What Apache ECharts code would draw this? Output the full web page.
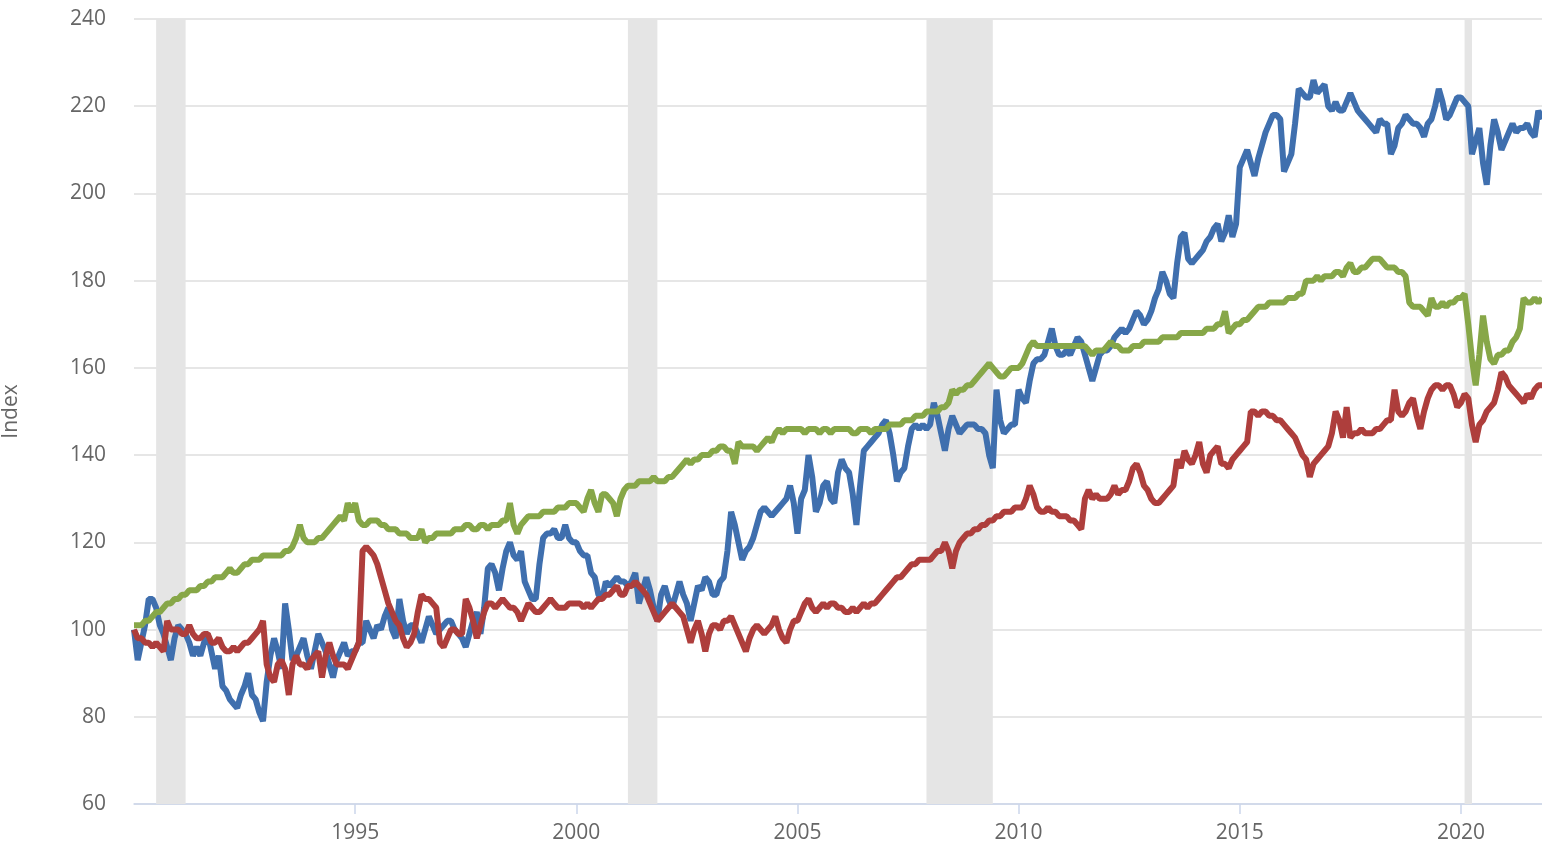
<!DOCTYPE html>
<html><head><meta charset="utf-8">
<script src="https://cdn.jsdelivr.net/npm/echarts@6/dist/echarts.min.js"></script>
<style>html,body{margin:0;padding:0;background:#fff}#c{width:1542px;height:845px}</style>
</head><body><div id="c"></div>
<script>
const START_YEAR = 1990; // monthly data from Jan 1990

const blueSeries = [
100,93,97,101,107,107,105,101,99,96,93,98,
101,100,99,97,94,96,94,97,99,95,91,94,
87,86,84,83,82,85,87,90,85,84,81,79,
88,94,98,95,91,106,100,93,94,96,98,94,
91,95,99,97,95,92,89,93,95,97,94,95,
95,97,97,102,100,98,101,100,103,105,100,98,
107,102,99,101,101,99,97,100,103,101,99,100,
101,102,102,100,99,98,96,99,102,104,99,105,
114,115,113,109,114,118,120,117,116,118,111,109,
107,107,115,121,122,122,123,121,121,124,121,120,
120,118,117,117,113,112,108,107,111,110,111,112,
111,111,110,111,113,106,109,112,109,105,102,108,
110,107,105,108,111,108,106,102,106,110,109,112,
111,108,108,111,112,118,127,124,120,116,118,119,
121,124,127,128,127,126,127,128,129,130,133,129,
122,130,132,140,135,127,129,133,134,130,129,136,
139,137,136,131,124,133,141,142,143,144,145,147,
148,145,140,134,136,137,142,146,147,146,147,146,
147,152,149,145,141,146,149,147,145,146,147,147,
147,146,146,145,140,137,155,148,145,146,147,147,
155,153,152,157,161,162,162,163,166,169,165,163,
163,164,163,165,167,166,163,160,157,160,163,164,
164,165,167,168,169,168,169,171,173,172,170,171,
173,176,178,182,180,177,176,184,190,191,185,184,
185,186,187,189,190,192,193,189,191,195,190,193,
206,208,210,207,204,208,211,214,216,218,218,217,
205,207,209,216,224,223,222,222,226,223,224,225,
220,219,221,219,219,221,223,221,219,218,217,216,
215,214,217,216,216,209,211,215,216,218,217,216,
216,215,213,216,217,220,224,221,217,218,220,222,
222,221,220,209,212,215,207,202,211,217,214,210,
212,214,216,214,215,215,216,214,213,219,217
];

const redSeries = [
100,98,98,97,97,96,97,96,95,102,100,100,
100,99,99,101,99,98,98,99,99,97,97,98,
96,95,95,96,95,96,97,97,98,99,100,102,
92,89,88,92,93,91,85,92,94,92,92,91,
93,94,95,89,94,97,94,92,92,92,91,93,
95,97,118,119,118,117,115,112,109,106,104,102,
101,98,96,97,99,104,108,107,107,106,105,97,
96,98,100,100,99,99,107,105,102,98,101,104,
106,106,105,106,107,106,105,105,104,102,104,106,
105,104,104,105,106,107,106,105,105,105,106,106,
106,106,105,106,105,106,107,107,108,108,109,110,
108,108,110,110,111,110,109,108,106,104,102,103,
104,105,106,105,104,103,100,97,100,102,99,95,
99,101,101,100,102,102,103,101,99,97,95,98,
100,101,100,99,100,101,103,100,98,97,100,102,
102,104,106,107,105,104,105,106,105,106,106,105,
105,104,104,105,104,105,106,105,106,106,107,108,
109,110,111,112,112,113,114,115,115,116,116,116,
116,117,118,118,120,118,114,118,120,121,122,122,
123,123,124,124,125,125,126,126,127,127,127,128,
128,128,130,133,131,128,127,127,128,127,127,126,
126,126,125,125,124,123,130,132,130,131,130,130,
130,131,133,131,132,132,134,137,138,136,133,132,
130,129,129,130,131,132,133,139,137,141,139,138,
140,143,138,136,140,141,142,138,138,137,139,140,
141,142,143,150,150,149,150,150,149,149,148,148,
147,146,145,144,142,140,139,135,138,139,140,141,
142,145,150,148,144,151,144,145,145,146,145,145,
145,146,146,147,148,148,155,150,149,150,152,153,
149,146,150,153,155,156,156,155,156,156,154,151,
152,154,153,147,143,147,148,150,151,152,155,159,
158,156,155,154,153,152,154,153,155,156,156
];

const greenSeries = [
101,101,101,102,102,103,104,104,105,106,106,107,
107,108,108,109,109,109,110,110,111,111,112,112,
112,113,114,113,113,114,115,115,116,116,116,117,
117,117,117,117,117,118,118,119,121,124,121,120,
120,120,121,121,122,123,124,125,126,125,129,127,
129,125,124,124,125,125,125,124,124,123,123,123,
122,122,122,121,121,121,123,120,121,121,122,122,
122,122,122,123,123,123,124,124,123,123,124,124,
123,124,124,124,125,125,129,124,122,124,125,126,
126,126,126,127,127,127,127,128,128,128,129,129,
129,128,127,130,132,129,127,131,131,130,129,126,
130,132,133,133,133,134,134,134,134,135,134,134,
134,135,135,136,137,138,139,138,139,139,140,140,
140,141,141,142,142,141,141,138,143,142,142,142,
142,141,142,143,144,143,145,146,145,146,146,146,
146,146,145,146,146,146,145,146,146,145,146,146,
146,146,146,145,145,146,146,146,145,146,146,146,
146,147,147,147,147,148,148,148,149,149,149,150,
150,150,150,151,151,152,155,154,155,155,156,156,
157,158,159,160,161,160,159,158,158,159,160,160,
160,161,163,165,166,165,165,165,165,165,165,165,
165,165,165,165,165,165,165,164,163,164,164,164,
165,166,165,165,164,164,164,165,165,165,166,166,
166,166,166,167,167,167,167,167,168,168,168,168,
168,168,168,169,169,169,170,170,173,168,169,170,
170,171,171,172,173,174,174,174,175,175,175,175,
175,176,176,176,177,177,180,180,180,181,180,181,
181,181,182,182,181,183,184,182,182,183,183,184,
185,185,185,184,183,183,183,182,182,181,175,174,
174,174,173,172,176,174,174,175,174,175,175,176,
176,177,170,162,156,163,172,166,162,161,163,163,
164,164,166,167,169,176,175,175,176,175,176
];

// recession periods, decimal years (start, end)
const recessions = [[1990.5, 1991.1667], [2001.1667, 2001.8333], [2007.9167, 2009.4167], [2020.0833, 2020.25]];

const yMin = 60, yMax = 240, yStep = 20;
const xTickStep = 5;

const toPairs = arr => arr.map((v, i) => [START_YEAR + i / 12, v]);
const xMax = START_YEAR + (blueSeries.length - 1) / 12;

const chart = echarts.init(document.getElementById('c'), null, {renderer: 'canvas'});
const FONT = '"Open Sans", "Noto Sans", sans-serif';
chart.setOption({
  animation: false,
  backgroundColor: '#ffffff',
  grid: {left: 134, right: 0, top: 19, bottom: 41, containLabel: false, outerBoundsMode: 'none'},
  xAxis: {
    type: 'value', min: START_YEAR, max: xMax, interval: xTickStep,
    axisLine: {show: true, lineStyle: {color: '#ccd6eb', width: 1.5}},
    axisTick: {show: true, length: 10, lineStyle: {color: '#ccd6eb', width: 1.5}},
    splitLine: {show: false},
    axisLabel: {showMinLabel: false, showMaxLabel: false, color: '#666666', fontSize: 21, fontFamily: FONT, margin: 19,
      formatter: v => String(Math.round(v))}
  },
  yAxis: {
    type: 'value', min: yMin, max: yMax, interval: yStep,
    name: 'Index', nameLocation: 'middle', nameGap: 112, nameRotate: 90,
    nameTextStyle: {color: '#666666', fontSize: 21, fontFamily: FONT},
    axisLine: {show: false}, axisTick: {show: false},
    splitLine: {lineStyle: {color: '#e6e6e6', width: 2}},
    axisLabel: {color: '#666666', fontSize: 21, fontFamily: FONT, margin: 28}
  },
  series: [
    {type: 'line', name: 'recessions', data: [], z: 1, silent: true,
     markArea: {silent: true, itemStyle: {color: '#e5e5e5'},
       data: recessions.map(r => [{xAxis: r[0]}, {xAxis: r[1]}])}},
    {type: 'line', name: 'Blue', data: toPairs(blueSeries), showSymbol: false, z: 3,
     lineStyle: {color: '#3f6fae', width: 6}, itemStyle: {color: '#3f6fae'}},
    {type: 'line', name: 'Red', data: toPairs(redSeries), showSymbol: false, z: 4,
     lineStyle: {color: '#ae3e3c', width: 6}, itemStyle: {color: '#ae3e3c'}},
    {type: 'line', name: 'Green', data: toPairs(greenSeries), showSymbol: false, z: 5,
     lineStyle: {color: '#87a748', width: 6}, itemStyle: {color: '#87a748'}}
  ]
});
</script>
</body></html>
